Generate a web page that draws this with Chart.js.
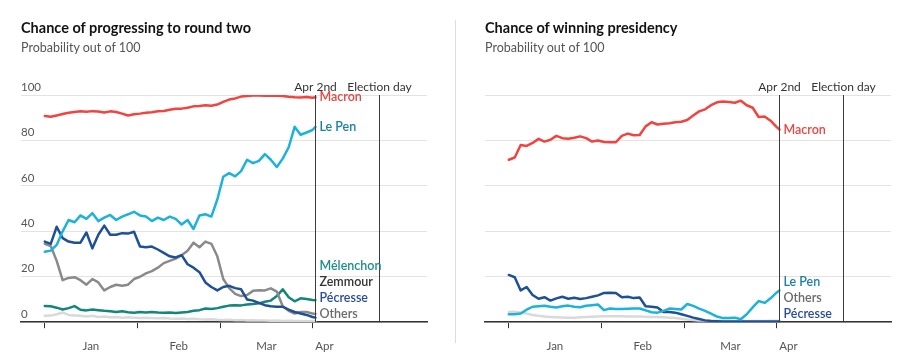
<!DOCTYPE html>
<html>
<head>
<meta charset="utf-8">
<script src="https://cdn.jsdelivr.net/npm/chart.js@4.4.1/dist/chart.umd.min.js"></script>
<style>
  html, body { margin: 0; padding: 0; background: #fff; overflow: hidden; }
  body { width: 904px; height: 364px; position: relative; font-family: Lato, 'Open Sans', sans-serif; }
  .panel { position: absolute; top: 0; width: 440px; height: 364px; }
  .panel canvas { position: absolute; left: 0; top: 0; }
  .title { position: absolute; left: 21px; top: 19px; font-size: 14.5px; font-weight: bold; color: #121212; white-space: nowrap; }
  .sub { position: absolute; left: 21px; top: 40px; font-size: 12.5px; color: #555; white-space: nowrap; }
  .divider { position: absolute; left: 455px; top: 20px; width: 1px; height: 323px; background: #dcdcdc; }
</style>
</head>
<body>
<div class="panel" style="left:0">
  <canvas id="roundTwo" width="440" height="364"></canvas>
  <div class="title">Chance of progressing to round two</div>
  <div class="sub">Probability out of 100</div>
</div>
<div class="divider"></div>
<div class="panel" style="left:464px">
  <canvas id="presidency" width="440" height="364"></canvas>
  <div class="title">Chance of winning presidency</div>
  <div class="sub">Probability out of 100</div>
</div>
<script>
// --- Data (days counted from Jan 1st) ---
const days = [0, 2, 4, 6, 8, 10, 12, 14, 16, 18, 20, 22, 24, 26, 28, 30, 32, 34, 36, 38, 40, 42, 44, 46,
              48, 50, 52, 54, 56, 58, 60, 62, 64, 66, 68, 70, 72, 74, 76, 78, 80, 82, 84, 86, 88, 90, 91];
const tickDays = [0, 31, 59, 90];
const monthDays = [15.5, 45, 74.5, 94];
const monthNames = ['Jan', 'Feb', 'Mar', 'Apr'];
const yTicks = [0, 20, 40, 60, 80, 100];
const markerDays = [91, 112.5];
const markerNames = ['Apr 2nd', 'Election day'];

// Chance of progressing to round two
const r2Macron = [90.8, 90.4, 91.0, 91.6, 92.2, 92.5, 92.8, 92.6, 92.9, 92.7, 92.3, 92.8, 92.5, 91.8, 91.0, 91.5,
                  91.8, 92.2, 92.4, 92.8, 93.0, 93.5, 93.9, 94.0, 94.4, 95.0, 95.2, 95.5, 95.3, 95.8, 97.0, 98.0,
                  98.5, 99.3, 99.6, 99.8, 99.8, 99.7, 99.8, 99.7, 99.6, 99.2, 99.0, 98.9, 99.1, 98.8, 99.0];
const r2LePen = [31, 31.5, 34, 40, 45, 44, 47, 45.5, 48, 44.5, 46, 47.2, 45, 46.5, 47.5, 48.6,
                 47, 46.5, 44.5, 46, 45, 46.5, 45.5, 43, 45, 41, 47, 47.5, 46.5, 54, 64, 65.6,
                 64.2, 66.5, 71.5, 70, 71, 74, 71.5, 68.3, 72, 77, 86, 82.5, 83.5, 84.6, 86];
const r2Pecresse = [35.5, 34.5, 42, 37, 35.5, 35, 35, 39.5, 32.5, 38.5, 42.5, 38.5, 38.5, 39.2, 39, 39.8,
                    33.3, 33, 33.3, 32, 30.5, 29, 28.5, 29.5, 25.5, 24, 22, 17.5, 15.5, 14, 15.5, 16,
                    15, 14.5, 10, 9.5, 8.5, 7.5, 7, 6.8, 6.8, 5.5, 4.5, 3.8, 3.2, 2.3, 2];
const r2Zemmour = [34.5, 33.5, 27, 18.5, 19.5, 19.8, 18.5, 16.5, 19, 17.5, 14, 15.5, 16.5, 16, 16.5, 19,
                   20, 21.5, 22.5, 24, 26, 27, 28, 29.5, 31.5, 35, 33, 35.5, 34.5, 29, 19, 15,
                   12.5, 11.5, 12, 13.8, 14.1, 14, 14.9, 13.5, 7, 5, 3.8, 4.5, 4.5, 3.8, 3.6];
const r2Melenchon = [7.1, 7.0, 6.4, 5.6, 6.2, 7.1, 5.5, 5.2, 5.6, 5.3, 5.0, 4.8, 4.5, 4.8, 4.4, 4.2,
                     4.5, 4.3, 4.5, 4.3, 4.2, 4.3, 4.0, 4.3, 4.5, 5.0, 5.3, 6.0, 5.8, 6.2, 6.8, 7.3,
                     7.5, 7.4, 7.8, 8.0, 8.3, 9.0, 9.5, 11.5, 14.5, 11, 9.2, 10.5, 10.2, 9.8, 9.7];
const r2Others = [2.8, 2.9, 3.5, 4.3, 3.2, 3.0, 2.8, 2.5, 2.8, 2.3, 2.5, 2.2, 2.3, 2.0, 2.2, 2.0,
                  1.8, 2.0, 1.8, 1.7, 1.8, 1.6, 1.5, 1.6, 1.4, 1.5, 1.3, 1.2, 1.3, 1.1, 1.0, 1.1,
                  0.9, 1.0, 0.8, 0.9, 0.7, 0.8, 0.6, 0.7, 0.5, 0.6, 0.5, 0.5, 0.4, 0.5, 0.5];

// Chance of winning presidency
const pMacron = [71.5, 72.5, 78.0, 77.6, 78.9, 80.7, 79.5, 80.3, 82.0, 81.0, 80.7, 81.2, 81.8, 81.0, 79.5, 80.0,
                 79.3, 79.2, 79.2, 82.0, 83.0, 82.3, 82.4, 86.2, 88.0, 87.0, 87.3, 87.6, 88.0, 88.2, 89.0, 91.0,
                 92.8, 93.7, 95.5, 96.8, 97.1, 96.9, 96.6, 97.5, 95.5, 94.4, 90.3, 90.5, 88.7, 86.0, 84.8];
const pLePen = [3.5, 3.5, 3.8, 5.5, 6.8, 7.0, 7.2, 6.8, 6.5, 7.0, 7.3, 6.8, 6.6, 7.2, 7.5, 7.8,
                5.3, 6.0, 5.8, 5.8, 5.9, 6.0, 6.0, 5.2, 4.4, 4.2, 5.0, 6.0, 5.8, 5.6, 8.0, 7.2,
                6.0, 5.0, 3.8, 2.5, 1.8, 1.8, 2.0, 1.3, 3.5, 6.5, 9.3, 8.5, 10.5, 13.0, 14.0];
const pPecresse = [20.8, 19.8, 14.0, 15.5, 12.0, 10.3, 11.0, 9.5, 10.5, 11.2, 10.3, 10.8, 10.2, 10.6, 11.2, 11.8,
                   12.9, 13.0, 12.9, 11.0, 11.2, 10.6, 10.9, 7.0, 6.8, 6.5, 4.5, 4.5, 4.2, 3.5, 2.8, 2.0,
                   1.4, 0.8, 0.5, 0.4, 0.3, 0.3, 0.3, 0.3, 0.3, 0.3, 0.3, 0.3, 0.3, 0.3, 0.3];
const pOthers = [4.5, 4.6, 4.3, 3.8, 3.2, 2.8, 2.5, 2.3, 2.2, 2.1, 2.0, 2.0, 2.2, 2.3, 2.4, 2.5,
                 2.6, 2.6, 2.6, 2.6, 2.5, 2.5, 2.5, 2.4, 2.3, 2.3, 2.2, 2.0, 1.8, 1.5, 1.2, 1.0,
                 0.8, 0.7, 0.6, 0.6, 0.5, 0.5, 0.5, 0.5, 0.5, 0.5, 0.5, 0.5, 0.6, 0.6, 0.6];

const FONT = 'Lato, "Open Sans", sans-serif';

// --- Plugin: Apr 2nd / Election day markers and end-of-line labels ---
const markerPlugin = {
    id: 'markers',
    afterDatasetsDraw(chart) {
        const { ctx, chartArea, scales: { x, y } } = chart;
        ctx.save();
        markerDays.forEach((d, i) => {
            const px = Math.round(x.getPixelForValue(d)) + 0.5;
            ctx.strokeStyle = '#3c3c3c';
            ctx.lineWidth = 1;
            ctx.beginPath();
            ctx.moveTo(px, chartArea.top);
            ctx.lineTo(px, chartArea.bottom);
            ctx.stroke();
            ctx.fillStyle = '#333';
            ctx.font = '12px ' + FONT;
            ctx.textAlign = 'center';
            ctx.textBaseline = 'middle';
            ctx.fillText(markerNames[i], px, chartArea.top - 8);
        });

        // stack labels upward so they don't overlap
        const items = chart.data.datasets.map(ds => {
            const last = ds.data[ds.data.length - 1];
            return { ds, y: y.getPixelForValue(last.y) };
        });
        items.sort((a, b) => b.y - a.y);
        let limit = chartArea.bottom - 8;
        items.forEach(it => { it.ly = Math.min(it.y, limit); limit = it.ly - 16; });

        const lx = x.getPixelForValue(markerDays[0]) + 4;
        ctx.textAlign = 'left';
        ctx.font = '600 12.5px ' + FONT;
        items.forEach(it => {
            ctx.fillStyle = it.ds.labelColor;
            ctx.fillText(it.ds.label, lx, it.ly);
        });
        ctx.restore();
    }
};

function makeDataset(name, values, color, labelColor) {
    return {
        label: name,
        data: days.map((d, i) => ({ x: d, y: values[i] })),
        borderColor: color,
        labelColor: labelColor,
        borderWidth: 2.5,
        pointRadius: 0,
        tension: 0,
        borderJoinStyle: 'round',
        borderCapStyle: 'round'
    };
}

function makeChart(canvasId, datasets, showYLabels) {
    return new Chart(document.getElementById(canvasId), {
        type: 'line',
        data: { datasets },
        options: {
            responsive: false,
            animation: false,
            layout: { padding: { left: 21, right: 13, top: 95, bottom: 8 } },
            plugins: { legend: { display: false }, tooltip: { enabled: false } },
            scales: {
                x: {
                    type: 'linear', min: -8, max: 128.5, weight: 0,
                    afterBuildTicks: s => { s.ticks = tickDays.map(v => ({ value: v })); },
                    ticks: { display: false },
                    grid: { drawOnChartArea: false, drawTicks: true, tickLength: 6, color: '#333', lineWidth: 1 },
                    border: { display: true, color: '#333', width: 1.5 }
                },
                xm: {
                    type: 'linear', axis: 'x', position: 'bottom', min: -8, max: 128.5, weight: 1,
                    afterBuildTicks: s => { s.ticks = monthDays.map(v => ({ value: v })); },
                    ticks: {
                        callback: (v, i) => monthNames[i],
                        autoSkip: false, maxRotation: 0, padding: 3,
                        color: '#555', font: { family: FONT, size: 11.5 }
                    },
                    grid: { display: false },
                    border: { display: false }
                },
                y: {
                    min: 0, max: 100,
                    afterBuildTicks: s => { s.ticks = yTicks.map(v => ({ value: v })); },
                    ticks: {
                        display: showYLabels, mirror: true, padding: 0, labelOffset: -8,
                        color: '#555', font: { family: FONT, size: 11.5 }
                    },
                    grid: { color: '#e3e3e3', lineWidth: 1, drawTicks: false },
                    border: { display: false }
                }
            }
        },
        plugins: [markerPlugin]
    });
}

makeChart('roundTwo', [
    makeDataset('Macron', r2Macron, '#f2433e', '#e8463f'),
    makeDataset('Le Pen', r2LePen, '#1cb2da', '#1b80a5'),
    makeDataset('Pécresse', r2Pecresse, '#1f5096', '#2b4c9b'),
    makeDataset('Zemmour', r2Zemmour, '#8a8a8a', '#333333'),
    makeDataset('Mélenchon', r2Melenchon, '#13857a', '#1b8e8a'),
    makeDataset('Others', r2Others, '#d9d9d9', '#6a6a6a')
], true);

makeChart('presidency', [
    makeDataset('Macron', pMacron, '#f2433e', '#e8463f'),
    makeDataset('Le Pen', pLePen, '#1cb2da', '#1b80a5'),
    makeDataset('Pécresse', pPecresse, '#1f5096', '#2b4c9b'),
    makeDataset('Others', pOthers, '#d9d9d9', '#6a6a6a')
], false);
</script>
</body>
</html>
